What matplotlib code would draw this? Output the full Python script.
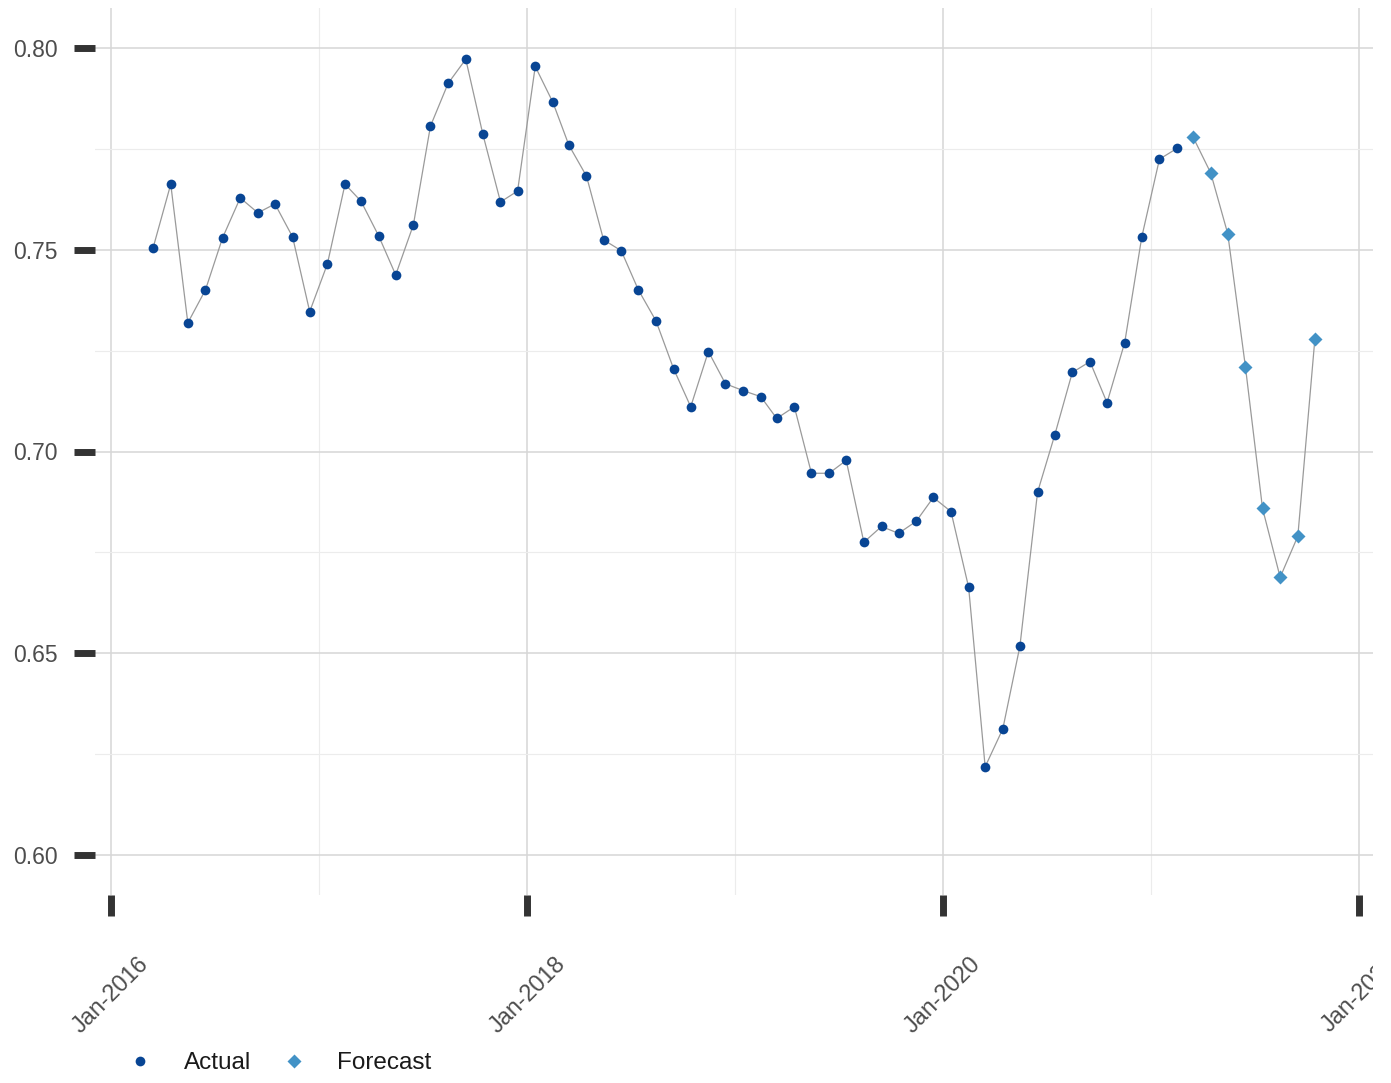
import matplotlib
matplotlib.use("Agg")
import matplotlib.pyplot as plt
import matplotlib.dates as mdates
from matplotlib.lines import Line2D
from matplotlib.transforms import Bbox, TransformedBbox
import numpy as np
import pandas as pd

plt.rcParams['font.family'] = ['Liberation Sans', 'DejaVu Sans']

# monthly values
actual_values = [
    0.7505, 0.7663, 0.7319, 0.7401, 0.7530, 0.7629, 0.7592, 0.7614, 0.7532, 0.7347,
    0.7465, 0.7663, 0.7621, 0.7535, 0.7438, 0.7562, 0.7807, 0.7913, 0.7973, 0.7787,
    0.7619, 0.7646, 0.7955, 0.7866, 0.7760, 0.7683, 0.7525, 0.7498, 0.7401, 0.7324,
    0.7205, 0.7111, 0.7248, 0.7168, 0.7151, 0.7136, 0.7082, 0.7111, 0.6946, 0.6946,
    0.6978, 0.6775, 0.6814, 0.6797, 0.6827, 0.6886, 0.6851, 0.6663, 0.6218, 0.6312,
    0.6517, 0.6899, 0.7040, 0.7196, 0.7223, 0.7121, 0.7270, 0.7532, 0.7725, 0.7752,
]
forecast_values = [0.7780, 0.7691, 0.7540, 0.7210, 0.6859, 0.6688, 0.6790, 0.7280]

actual_start = "2016-03-01"
forecast_start = "2021-03-01"
y_ticks = [0.60, 0.65, 0.70, 0.75, 0.80]
x_tick_years = [2016, 2018, 2020, 2022]

actual_dates = pd.date_range(actual_start, periods=len(actual_values), freq="MS") + pd.Timedelta(days=14)
forecast_dates = pd.date_range(forecast_start, periods=len(forecast_values), freq="MS") + pd.Timedelta(days=14)

col_actual = "#084594"
col_forecast = "#4292c6"
col_line = "#9a9a9a"
col_text = "#4d4d4d"

W, H = 1391, 1083
fig = plt.figure(figsize=(W / 100, H / 100), dpi=100)
ax = fig.add_axes([95 / W, 188 / H, 1278 / W, 887 / H])

ax.plot(actual_dates, actual_values, color=col_line, lw=0.9, zorder=2)
ax.plot(forecast_dates, forecast_values, color=col_line, lw=0.9, zorder=2)
ax.plot(actual_dates, actual_values, "o", ms=7, color=col_actual, mec="none", zorder=3)
ax.plot(forecast_dates, forecast_values, "D", ms=7, color=col_forecast, mec="none", zorder=3)

ax.margins(x=0.05)
ax.set_ylim(0.59, 0.81)

ax.set_yticks(y_ticks)
ax.set_yticklabels([f"{v:.2f}" for v in y_ticks])
ax.set_yticks(np.arange(0.625, 0.8, 0.05), minor=True)

ax.set_xticks([mdates.date2num(pd.Timestamp(f"{y}-01-01")) for y in x_tick_years])
ax.set_xticklabels([f"Jan-{y}" for y in x_tick_years], rotation=45, ha="center", va="top")
ax.set_xticks([mdates.date2num(pd.Timestamp(f"{y}-01-01")) for y in (2017, 2019, 2021)], minor=True)

for s in ax.spines.values():
    s.set_visible(False)

ax.grid(which="major", color="#d6d6d6", lw=1.1)
ax.grid(which="minor", color="#ececec", lw=0.8)
ax.set_axisbelow(True)

ax.tick_params(axis="y", which="major", length=15, width=5, color="#333333", pad=12,
               labelsize=16.5, labelcolor=col_text)
ax.tick_params(axis="x", which="major", length=15, width=5, color="#333333", pad=26,
               labelsize=16.8, labelcolor=col_text)
ax.tick_params(which="minor", length=0)

# the reference cuts the last date label at the plot's right edge
clip = TransformedBbox(Bbox([[0, 0], [1373 / W, 1]]), fig.transFigure)
for lab in ax.get_xticklabels():
    lab.set_clip_on(True)
    lab.set_clip_box(clip)

handles = [
    Line2D([], [], marker="o", ls="none", ms=7, color=col_actual, mec="none"),
    Line2D([], [], marker="D", ls="none", ms=7, color=col_forecast, mec="none"),
]
fig.legend(handles, ["Actual", "Forecast"], ncol=2, frameon=False, loc="center left",
           bbox_to_anchor=(128 / W, 1 - 1063 / H), fontsize=17.5, handlelength=1.0,
           handletextpad=1.3, columnspacing=1.25, borderpad=0, borderaxespad=0,
           labelcolor="#1a1a1a")

fig.savefig("out.png", dpi=100)
